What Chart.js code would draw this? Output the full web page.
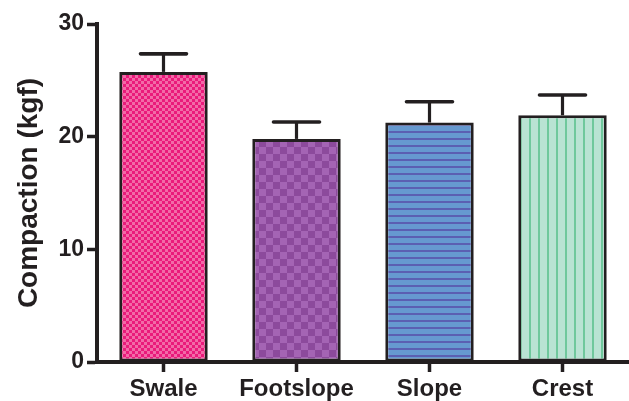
<!DOCTYPE html>
<html>
<head>
<meta charset="utf-8">
<script src="https://cdn.jsdelivr.net/npm/chart.js@4.4.1/dist/chart.umd.min.js"></script>
<style>
  html, body { margin: 0; padding: 0; background: #ffffff; }
  #wrap { width: 629px; height: 401px; position: relative; }
</style>
</head>
<body>
<div id="wrap"><canvas id="chart" width="629" height="401"></canvas></div>
<script>
// Soil compaction by landscape position (mean with upper error bar)
const categories = ['Swale', 'Footslope', 'Slope', 'Crest'];
const compaction = [25.75, 19.8, 21.25, 21.9];
const errorUp = [1.6, 1.5, 1.85, 1.8];
const yTickValues = [0, 10, 20, 30];

const INK = '#231F20';
const FONT = '"Liberation Sans", Arial, Helvetica, sans-serif';

// Build tiled fill patterns for each bar
function makePattern(w, h, paint) {
  const c = document.createElement('canvas');
  c.width = w; c.height = h;
  const g = c.getContext('2d');
  paint(g, w, h);
  return document.getElementById('chart').getContext('2d').createPattern(c, 'repeat');
}

const fills = [
  // fine pink checkerboard
  makePattern(6, 6, (g) => {
    g.fillStyle = '#EA1A7B'; g.fillRect(0, 0, 6, 6);
    g.fillStyle = '#F26AA7'; g.fillRect(0, 0, 3, 3); g.fillRect(3, 3, 3, 3);
  }),
  // coarse purple checkerboard
  makePattern(14, 14, (g) => {
    g.fillStyle = '#8C4A9C'; g.fillRect(0, 0, 14, 14);
    g.fillStyle = '#A464B4'; g.fillRect(0, 0, 7, 7); g.fillRect(7, 7, 7, 7);
  }),
  // blue with horizontal stripes
  makePattern(7, 7, (g) => {
    g.fillStyle = '#6699D0'; g.fillRect(0, 0, 7, 7);
    g.fillStyle = '#5B5FB2'; g.fillRect(0, 5, 7, 2);
  }),
  // mint with vertical stripes
  makePattern(9, 9, (g) => {
    g.fillStyle = '#B9E3D3'; g.fillRect(0, 0, 9, 9);
    g.fillStyle = '#6FC89C'; g.fillRect(7, 0, 2, 9);
  })
];

// Upward-only error bars with a flat cap
const errorBars = {
  id: 'errorBars',
  afterDatasetsDraw(chart) {
    const meta = chart.getDatasetMeta(0);
    const y = chart.scales.y;
    const ctx = chart.ctx;
    ctx.save();
    ctx.strokeStyle = INK;
    meta.data.forEach((bar, i) => {
      const top = y.getPixelForValue(compaction[i]);
      const capY = y.getPixelForValue(compaction[i] + errorUp[i]);
      ctx.lineWidth = 3.2;
      ctx.lineCap = 'butt';
      ctx.beginPath();
      ctx.moveTo(bar.x, top);
      ctx.lineTo(bar.x, capY);
      ctx.stroke();
      ctx.lineWidth = 3.6;
      ctx.lineCap = 'round';
      ctx.beginPath();
      ctx.moveTo(bar.x - 23, capY);
      ctx.lineTo(bar.x + 23, capY);
      ctx.stroke();
    });
    ctx.restore();
  }
};

new Chart(document.getElementById('chart'), {
  type: 'bar',
  data: {
    labels: categories,
    datasets: [{
      data: compaction,
      backgroundColor: fills,
      borderColor: INK,
      borderWidth: 3,
      borderSkipped: false,
      categoryPercentage: 1.0,
      barPercentage: 0.665
    }]
  },
  options: {
    responsive: false,
    animation: false,
    devicePixelRatio: 1,
    layout: { padding: { top: 24, right: -4, bottom: 0, left: 0 } },
    plugins: { legend: { display: false }, tooltip: { enabled: false } },
    scales: {
      x: {
        offset: true,
        border: { color: INK, width: 4 },
        grid: { drawOnChartArea: false, offset: false, tickLength: 10, tickWidth: 3.5, tickColor: INK },
        ticks: { color: INK, padding: 3, font: { family: FONT, size: 24, weight: 'bold' } },
        afterFit(scale) { scale.height = 39; }
      },
      y: {
        min: 0,
        max: 30,
        afterBuildTicks(scale) { scale.ticks = yTickValues.map(v => ({ value: v })); },
        border: { color: INK, width: 4 },
        grid: { drawOnChartArea: false, tickLength: 10, tickWidth: 3.5, tickColor: INK },
        ticks: { color: INK, padding: 3, font: { family: FONT, size: 23, weight: 'bold' } },
        title: {
          display: true,
          text: 'Compaction (kgf)',
          color: INK,
          padding: { top: 12, bottom: 0 },
          font: { family: FONT, size: 28, weight: 'bold' }
        },
        afterFit(scale) { scale.width = 97; }
      }
    }
  },
  plugins: [errorBars]
});
</script>
</body>
</html>
